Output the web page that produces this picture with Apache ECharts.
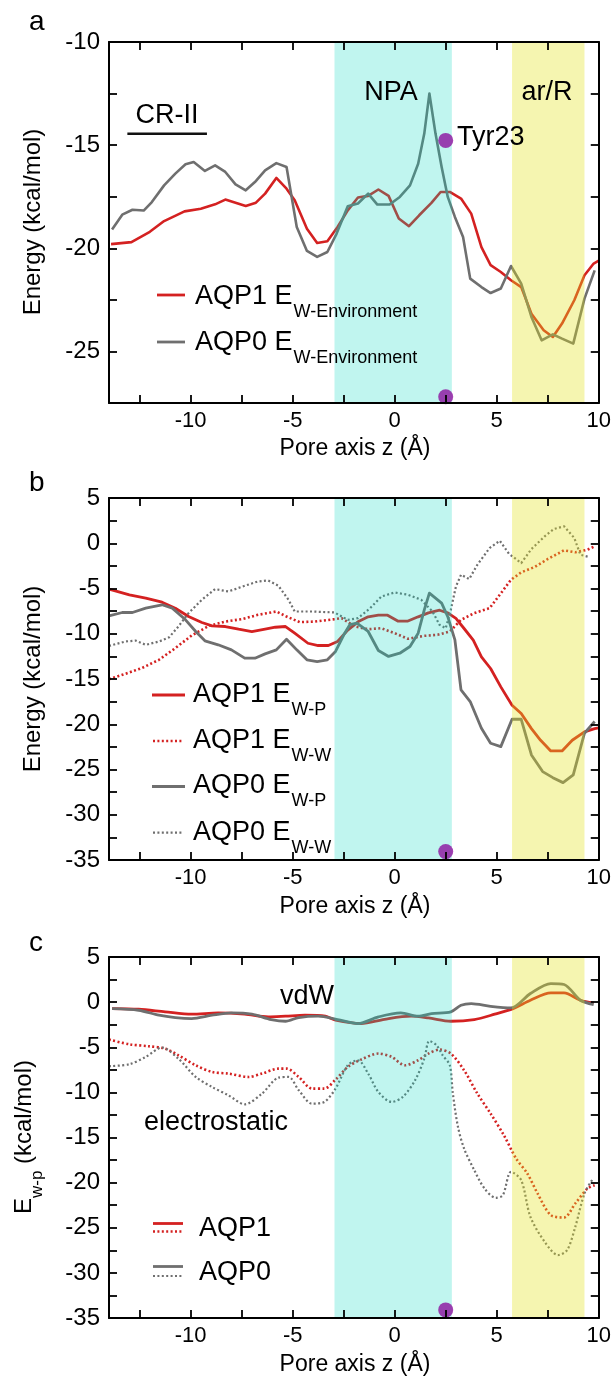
<!DOCTYPE html>
<html><head><meta charset="utf-8">
<script src="https://cdn.jsdelivr.net/npm/echarts@6/dist/echarts.min.js"></script>
<style>html,body{margin:0;padding:0;background:#fff}#c{width:614px;height:1377px}</style>
</head><body><div id="c"></div>
<script>
// ---------- axis / tick data ----------
const xLabelVals = [-10, -5, 0, 5, 10];
const xTickVals = [-12.5, -10, -7.5, -5, -2.5, 0, 2.5, 5, 7.5];
const xRange = [-14, 10];
const yRangeA = [-27.5, -10];
const yRangeB = [-35, 5];
const yRangeC = [-35, 5];
const bandNPA = [-2.95, 2.8];
const bandArR = [5.75, 9.3];
const tyrZ = 2.5;
const dotsA = [[tyrZ, -14.77], [tyrZ, -27.2]];
const dotsB = [[tyrZ, -34.07]];
const dotsC = [[tyrZ, -34.1]];
const crII = [[-13.1, -14.45], [-9.2, -14.45]];

// ---------- panel a : E W-Environment ----------
const aAQP1 = [[-13.9,-19.8],[-12.9,-19.7],[-12.0,-19.2],[-11.3,-18.68],[-10.3,-18.21],[-9.5,-18.08],[-8.8,-17.87],[-8.3,-17.64],[-7.3,-17.95],[-6.8,-17.79],[-6.35,-17.35],[-5.8,-16.59],[-5.3,-17.11],[-4.9,-17.67],[-4.3,-19.05],[-3.8,-19.74],[-3.3,-19.66],[-2.8,-18.97],[-2.3,-18.16],[-1.8,-17.54],[-1.3,-17.46],[-0.8,-17.15],[-0.3,-17.46],[0.2,-18.56],[0.7,-18.93],[1.2,-18.4],[1.8,-17.8],[2.25,-17.27],[2.7,-17.27],[3.25,-17.59],[3.75,-18.32],[4.25,-19.94],[4.7,-20.82],[5.2,-21.15],[5.7,-21.55],[6.2,-21.88],[6.7,-23.17],[7.3,-23.97],[7.75,-24.3],[8.2,-23.65],[8.8,-22.52],[9.3,-21.31],[9.75,-20.74],[10,-20.6]];
const aAQP0 = [[-13.85,-19.09],[-13.35,-18.37],[-12.85,-18.13],[-12.3,-18.17],[-11.9,-17.76],[-11.3,-16.95],[-10.75,-16.38],[-10.25,-15.93],[-9.85,-15.82],[-9.3,-16.25],[-8.8,-15.98],[-8.3,-16.3],[-7.8,-16.9],[-7.3,-17.19],[-6.85,-16.79],[-6.35,-16.22],[-5.8,-15.87],[-5.3,-16.06],[-4.8,-18.97],[-4.3,-20.13],[-3.8,-20.42],[-3.3,-20.18],[-2.85,-19.3],[-2.3,-17.96],[-1.8,-17.83],[-1.3,-17.35],[-0.85,-17.88],[-0.25,-17.88],[0.25,-17.51],[0.75,-16.95],[1.15,-15.9],[1.45,-14.44],[1.7,-12.5],[2.0,-14.44],[2.3,-16.06],[2.6,-17.51],[2.95,-18.48],[3.35,-19.45],[3.7,-21.47],[4.25,-21.88],[4.7,-22.17],[5.2,-21.95],[5.7,-20.86],[6.2,-21.71],[6.7,-23.33],[7.2,-24.46],[7.75,-24.17],[8.2,-24.38],[8.75,-24.62],[9.3,-22.44],[9.8,-21.07]];

// ---------- panel b : E W-P and E W-W ----------
const bAQP1wp = [[-14,-5.07],[-13.0,-5.7],[-12.2,-6.07],[-11.4,-6.51],[-10.75,-7.18],[-10.1,-8.1],[-9.45,-8.76],[-8.95,-9.13],[-8.3,-9.2],[-7.65,-9.5],[-7.0,-9.76],[-6.35,-9.5],[-5.85,-9.28],[-5.35,-9.2],[-4.9,-9.94],[-4.25,-11.05],[-3.75,-11.3],[-3.25,-11.3],[-2.8,-10.85],[-2.3,-9.6],[-1.8,-8.68],[-1.3,-8.13],[-0.8,-7.95],[-0.35,-7.95],[0.15,-8.6],[0.65,-8.6],[1.15,-8.13],[1.65,-7.69],[2.2,-7.4],[2.6,-7.69],[3.0,-8.31],[3.4,-9.42],[3.85,-10.71],[4.25,-12.55],[4.7,-13.84],[5.2,-15.87],[5.75,-17.9],[6.2,-18.82],[6.7,-20.48],[7.15,-21.77],[7.65,-22.95],[8.2,-22.95],[8.7,-21.77],[9.3,-20.85],[9.8,-20.48],[10,-20.4]];
const bAQP1ww = [[-14,-15.02],[-13.2,-14.43],[-12.4,-13.8],[-11.55,-12.88],[-10.75,-11.59],[-9.95,-10.19],[-9.1,-9.13],[-8.3,-8.65],[-7.5,-8.39],[-6.7,-7.91],[-5.8,-7.54],[-5.3,-8.1],[-4.65,-8.72],[-3.9,-8.65],[-2.95,-8.39],[-2.6,-8.28],[-1.95,-9.2],[-1.3,-9.5],[-0.65,-9.39],[0,-9.94],[0.65,-10.56],[1.45,-10.23],[2.1,-10.12],[2.7,-9.75],[3.25,-8.46],[3.9,-7.72],[4.65,-7.17],[5.15,-5.69],[5.7,-4.03],[6.2,-3.22],[6.85,-2.63],[7.5,-1.74],[8.3,-0.78],[8.85,-1.0],[9.45,-0.71],[9.8,-0.34]];
const bAQP0wp = [[-14,-8.02],[-13.35,-7.65],[-12.85,-7.65],[-12.2,-7.17],[-11.4,-6.8],[-10.9,-7.17],[-10.25,-8.46],[-9.75,-9.75],[-9.3,-10.78],[-8.65,-11.22],[-8.0,-11.78],[-7.35,-12.7],[-6.85,-12.7],[-6.35,-12.22],[-5.8,-11.78],[-5.3,-10.6],[-4.8,-11.78],[-4.3,-12.88],[-3.8,-13.07],[-3.3,-12.88],[-2.9,-11.96],[-2.45,-9.94],[-2.2,-9.0],[-1.85,-8.83],[-1.3,-9.75],[-0.8,-11.85],[-0.3,-12.51],[0.25,-12.15],[0.75,-11.41],[1.15,-9.94],[1.45,-7.36],[1.7,-5.52],[2.3,-6.62],[2.6,-8.1],[2.95,-10.67],[3.25,-16.2],[3.7,-17.49],[4.25,-20.44],[4.7,-22.1],[5.2,-22.47],[5.75,-19.45],[6.2,-19.45],[6.7,-23.39],[7.25,-25.23],[7.75,-25.9],[8.25,-26.45],[8.75,-25.6],[9.3,-20.99],[9.8,-19.7]];
const bAQP0ww = [[-14,-11.34],[-13.2,-10.86],[-12.7,-10.75],[-12.2,-11.22],[-11.55,-10.86],[-11.05,-10.38],[-10.6,-9.2],[-10.1,-7.72],[-9.45,-6.25],[-8.8,-5.07],[-8.15,-5.33],[-7.35,-4.7],[-6.7,-4.22],[-6.2,-4.11],[-5.7,-4.7],[-5.2,-6.25],[-4.9,-7.54],[-4.05,-7.54],[-2.95,-7.65],[-2.3,-8.46],[-1.8,-8.28],[-1.2,-7.17],[-0.65,-5.88],[0,-5.44],[0.65,-5.69],[1.3,-6.25],[1.85,-7.54],[2.2,-9.02],[2.5,-9.39],[2.75,-7.36],[3.0,-4.78],[3.25,-3.48],[3.65,-3.96],[4.05,-2.38],[4.65,-0.53],[5.15,0.28],[5.6,-1.16],[6.2,-2.19],[6.7,-0.64],[7.35,0.76],[7.8,1.57],[8.3,1.87],[8.8,0.58],[9.1,-1.27],[9.55,-1.53]];

// ---------- panel c : vdW and electrostatic ----------
const cAQP1vdw = [[-13.85,-0.72],[-12.55,-0.79],[-11.25,-1.08],[-9.95,-1.34],[-8.65,-1.2],[-7.35,-1.34],[-6.2,-1.64],[-5.35,-1.56],[-4.4,-1.45],[-3.4,-1.56],[-2.9,-2.0],[-1.65,-2.38],[-0.5,-1.9],[0.8,-1.56],[1.65,-1.75],[2.75,-2.12],[3.9,-1.93],[4.9,-1.34],[5.8,-0.72],[6.65,0.21],[7.65,1.02],[8.3,1.02],[9.1,0.21],[9.75,-0.09]];
const cAQP0vdw = [[-13.85,-0.72],[-12.55,-0.9],[-11.55,-1.45],[-10.75,-1.71],[-9.95,-1.82],[-8.95,-1.45],[-8.0,-1.2],[-7.0,-1.34],[-6.05,-1.93],[-5.35,-2.12],[-4.7,-1.71],[-3.75,-1.56],[-2.8,-1.93],[-1.8,-2.38],[-0.8,-1.64],[0.3,-1.2],[1.15,-1.56],[1.8,-1.27],[2.75,-1.08],[3.25,-0.35],[3.75,-0.16],[4.7,-0.46],[5.7,-0.64],[6.65,0.95],[7.65,2.06],[8.3,1.95],[9.1,0.21],[9.75,-0.27]];
const cAQP1ele = [[-14,-4.15],[-13.0,-4.67],[-12.05,-4.89],[-11.25,-5.15],[-10.6,-5.89],[-9.75,-7.0],[-8.95,-7.74],[-8.15,-7.92],[-7.15,-8.29],[-6.5,-7.92],[-5.7,-7.37],[-5.3,-7.37],[-4.7,-8.29],[-4.05,-9.58],[-3.45,-9.58],[-2.9,-8.6],[-2.3,-7.18],[-1.65,-6.37],[-0.8,-5.7],[-0.15,-6.07],[0.5,-7.0],[1.15,-6.44],[1.65,-5.7],[2.2,-5.26],[2.75,-5.7],[3.4,-7.55],[4.05,-10.13],[4.7,-12.35],[5.35,-14.75],[5.95,-17.33],[6.5,-18.99],[7.0,-21.2],[7.65,-23.6],[8.3,-23.86],[8.85,-22.31],[9.45,-20.65],[9.8,-20.28]];
const cAQP0ele = [[-14,-7.1],[-13.0,-6.88],[-12.2,-6.07],[-11.4,-5.04],[-10.6,-6.26],[-9.75,-8.29],[-8.95,-9.4],[-8.15,-10.32],[-7.35,-11.32],[-6.5,-10.13],[-5.7,-8.37],[-5.2,-8.29],[-4.7,-9.77],[-4.05,-11.25],[-3.45,-11.06],[-2.9,-9.58],[-2.3,-7.0],[-1.8,-6.44],[-1.3,-7.92],[-0.8,-9.95],[-0.15,-11.06],[0.4,-10.5],[1.0,-8.66],[1.45,-6.26],[1.7,-4.3],[2.05,-4.78],[2.35,-5.89],[2.7,-7.0],[2.85,-10.13],[3.1,-13.82],[3.4,-16.22],[3.9,-18.62],[4.4,-20.65],[4.95,-21.68],[5.3,-21.39],[5.7,-18.8],[6.2,-19.73],[6.65,-23.79],[7.35,-26.56],[8.0,-28.03],[8.45,-27.48],[8.85,-24.9],[9.3,-21.2],[9.7,-19.62]];

// ---------- style ----------
const FONT = '"Liberation Sans", Arial, Helvetica, sans-serif';
const RED = '#d42121', GRAY = '#6f6f6f';
const CYAN = 'rgba(3,215,191,0.25)', YELLOW = 'rgba(226,226,29,0.35)';
const DOT = [2, 2.4];
const grids = [
  {left: 109, top: 42, width: 492, height: 361},
  {left: 109, top: 498, width: 492, height: 362},
  {left: 109, top: 957, width: 492, height: 361}
];
const yRanges = [yRangeA, yRangeB, yRangeC];

const xAxes = [], yAxes = [];
grids.forEach((g, i) => {
  ['bottom', 'top'].forEach(pos => xAxes.push({
    type: 'value', gridIndex: i, position: pos, min: xRange[0], max: xRange[1], z: 30,
    axisLine: {show: true, onZero: false, lineStyle: {color: '#000', width: 2}},
    axisTick: {show: true, inside: true, length: 8, customValues: xTickVals, lineStyle: {color: '#000', width: 1.8}},
    axisLabel: {show: pos === 'bottom', customValues: xLabelVals, fontSize: 22, color: '#000', fontFamily: FONT, margin: 7},
    splitLine: {show: false}
  }));
  ['left', 'right'].forEach(pos => yAxes.push({
    type: 'value', gridIndex: i, position: pos, min: yRanges[i][0], max: yRanges[i][1], interval: 2.5, z: 30,
    axisLine: {show: true, onZero: false, lineStyle: {color: '#000', width: 2}},
    axisTick: {show: true, inside: true, length: 8, lineStyle: {color: '#000', width: 1.8}},
    axisLabel: {show: pos === 'left', fontSize: 24, color: '#000', fontFamily: FONT, margin: 9,
      formatter: v => (Math.abs(v % 5) < 1e-9 ? String(v) : '')},
    splitLine: {show: false}
  }));
});

function line(i, data, color, width, dashed, smooth) {
  return {type: 'line', xAxisIndex: 2 * i, yAxisIndex: 2 * i, data: data, symbol: 'none', silent: true, z: 2,
    smooth: smooth || false,
    lineStyle: {color: color, width: width, type: dashed ? DOT : 'solid', cap: 'butt', join: 'round'}};
}
function bands(i) {
  return {type: 'line', xAxisIndex: 2 * i, yAxisIndex: 2 * i, data: [], silent: true, z: 10,
    markArea: {silent: true, z: 10, data: [
      [{xAxis: bandNPA[0], itemStyle: {color: CYAN}}, {xAxis: bandNPA[1]}],
      [{xAxis: bandArR[0], itemStyle: {color: YELLOW}}, {xAxis: bandArR[1]}]
    ]}};
}
function dots(i, data) {
  return {type: 'scatter', xAxisIndex: 2 * i, yAxisIndex: 2 * i, data: data, symbolSize: 15, silent: true, z: 20,
    itemStyle: {color: '#8c129f'}};
}

const series = [
  line(0, aAQP1, RED, 2.6), line(0, aAQP0, GRAY, 2.6),
  line(1, bAQP1wp, RED, 2.8), line(1, bAQP1ww, RED, 2.6, true),
  line(1, bAQP0wp, GRAY, 2.8), line(1, bAQP0ww, GRAY, 2.2, true),
  line(2, cAQP1vdw, RED, 2.8, false, 0.3), line(2, cAQP0vdw, GRAY, 2.8, false, 0.3),
  line(2, cAQP1ele, RED, 2.6, true, 0.3), line(2, cAQP0ele, GRAY, 2.2, true, 0.3),
  bands(0), bands(1), bands(2),
  dots(0, dotsA), dots(1, dotsB), dots(2, dotsC),
  {type: 'line', xAxisIndex: 0, yAxisIndex: 0, data: crII, symbol: 'none', silent: true, z: 20,
    lineStyle: {color: '#111', width: 2.5}}
];

// ---------- text ----------
function txt(x, y, text, size, align, valign, extra) {
  return Object.assign({type: 'text', x: x, y: y, z: 100, silent: true,
    style: {text: text, fill: '#000', fontSize: size, fontFamily: FONT, textAlign: align || 'center', textVerticalAlign: valign || 'middle'}}, extra || {});
}
const richSub = {
  m: {fontSize: 27, fontFamily: FONT, lineHeight: 28, verticalAlign: 'top', fill: '#000'},
  s: {fontSize: 18, fontFamily: FONT, lineHeight: 18, padding: [20, 0, 0, 1], verticalAlign: 'top', fill: '#000'}
};
function legText(x, cy, main, sub) {
  return {type: 'text', x: x, y: cy - 14, z: 100, silent: true,
    style: {text: '{m|' + main + '}{s|' + sub + '}', rich: richSub, textAlign: 'left', textVerticalAlign: 'top', fill: '#000'}};
}
function legLine(x1, x2, y, color, width, dashed) {
  return {type: 'line', z: 100, silent: true, shape: {x1: x1, y1: y, x2: x2, y2: y},
    style: {stroke: color, lineWidth: width, lineDash: dashed ? DOT : null}};
}

const elements = [
  txt(29, 22, 'a', 28, 'left'), txt(29, 483, 'b', 28, 'left'), txt(29, 943, 'c', 28, 'left'),
  txt(33, 222, 'Energy (kcal/mol)', 24, 'center', 'middle', {rotation: Math.PI / 2}),
  txt(33, 679, 'Energy (kcal/mol)', 24, 'center', 'middle', {rotation: Math.PI / 2}),
  {type: 'text', x: 12, y: 1137, z: 100, silent: true, rotation: Math.PI / 2,
    style: {text: '{m|E}{s|w-p}{m| (kcal/mol)}', textAlign: 'center', textVerticalAlign: 'top', fill: '#000',
      rich: {m: {fontSize: 24, fontFamily: FONT, lineHeight: 26, verticalAlign: 'top', fill: '#000'},
             s: {fontSize: 17, fontFamily: FONT, lineHeight: 17, padding: [17, 0, 0, 0], verticalAlign: 'top', fill: '#000'}}}},
  txt(355, 449, 'Pore axis z (Å)', 23), txt(355, 907, 'Pore axis z (Å)', 23), txt(355, 1365, 'Pore axis z (Å)', 23),
  txt(391, 93, 'NPA', 27), txt(547, 93, 'ar/R', 27), txt(167, 116, 'CR-II', 27), txt(457, 138, 'Tyr23', 27, 'left'),
  txt(280, 997, 'vdW', 27, 'left'), txt(216, 1123, 'electrostatic', 27),
  // legend a
  legLine(157, 185, 295, RED, 2.8), legText(195, 297, 'AQP1 E', 'W-Environment'),
  legLine(157, 185, 342, GRAY, 2.8), legText(195, 343, 'AQP0 E', 'W-Environment'),
  // legend b
  legLine(152, 185, 695, RED, 2.8), legText(193, 695, 'AQP1 E', 'W-P'),
  legLine(153, 183, 741, RED, 2.6, true), legText(193, 741, 'AQP1 E', 'W-W'),
  legLine(152, 185, 786.5, GRAY, 2.8), legText(193, 786.5, 'AQP0 E', 'W-P'),
  legLine(153, 183, 832.7, GRAY, 2.2, true), legText(193, 832.7, 'AQP0 E', 'W-W'),
  // legend c
  legLine(153, 183, 1223.5, RED, 2.8), legLine(153, 183, 1231.5, RED, 2.6, true), txt(199, 1229, 'AQP1', 27, 'left'),
  legLine(153, 183, 1266.5, GRAY, 2.8), legLine(153, 183, 1276, GRAY, 2.2, true), txt(199, 1273, 'AQP0', 27, 'left')
];

const chart = echarts.init(document.getElementById('c'), null, {renderer: 'canvas', width: 614, height: 1377});
chart.setOption({
  animation: false,
  backgroundColor: '#fff',
  grid: grids,
  xAxis: xAxes,
  yAxis: yAxes,
  series: series,
  graphic: {elements: elements}
});
</script></body></html>
